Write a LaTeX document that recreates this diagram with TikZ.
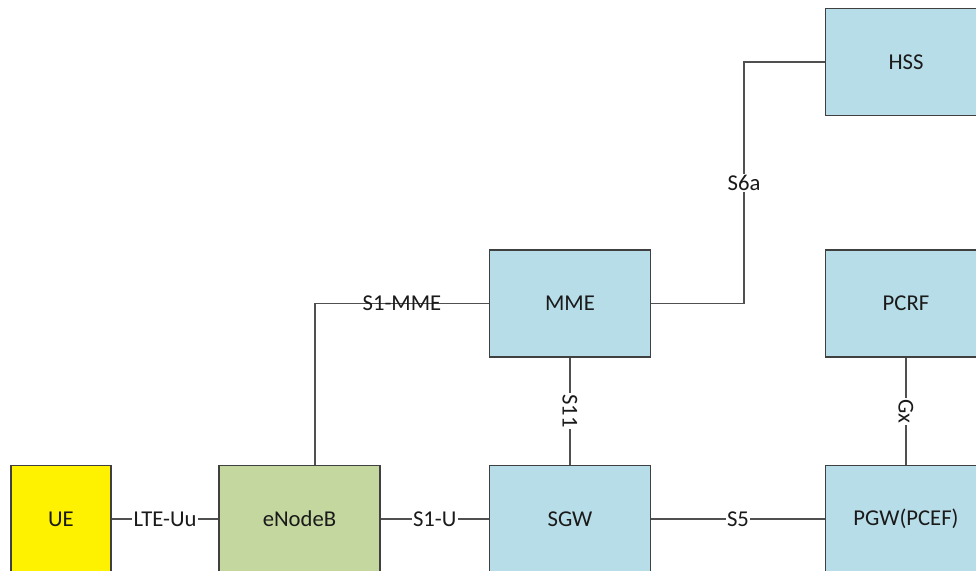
\documentclass[tikz,border=0pt]{standalone}
\usepackage{fontspec}
\setmainfont{Carlito}
\begin{document}
\begin{tikzpicture}[x=0.75pt,y=-0.75pt,
  box/.style={draw=boxline,line width=1.1pt,minimum width=120.5pt,minimum height=80.5pt,inner sep=0pt,font=\fontsize{17}{19}\selectfont,text=txt},
  bluebox/.style={box,fill=blueF},
  conn/.style={draw=connline,line width=1.2pt},
  lbl/.style={fill=white,inner sep=1pt,font=\fontsize{17}{19}\selectfont,text=txt},
  lblnf/.style={inner sep=1pt,font=\fontsize{17}{19}\selectfont,text=txt}]
\definecolor{boxline}{HTML}{404040}
\definecolor{connline}{HTML}{505050}
\definecolor{blueF}{HTML}{B7DDE8}
\definecolor{greenF}{HTML}{C4D79F}
\definecolor{txt}{HTML}{1A1A1A}
\useasboundingbox (0,0) rectangle (976,571);
\clip (0,0) rectangle (976,571);
\fill[white] (0,0) rectangle (976,571);
% nodes
\node[box,fill=yellow,minimum width=75pt] (ue) at (61,519) {UE};
\node[box,fill=greenF] (enb) at (299.5,519) {eNodeB};
\node[bluebox] (sgw) at (570,519) {SGW};
\node[bluebox] (pgw) at (906,519) {PGW(PCEF)};
\node[bluebox] (mme) at (570,303.5) {MME};
\node[bluebox] (pcrf) at (906,303.5) {PCRF};
\node[bluebox] (hss) at (906,62) {HSS};
\coordinate (s6ax) at (744,0);
% connectors
\draw[conn] (ue) -- node[lbl]{LTE-Uu} (enb);
\draw[conn] (enb) -- node[lbl]{S1-U} (sgw);
\draw[conn] (sgw) -- node[lbl]{S5} (pgw);
\draw[conn] (mme) -- node[lbl,rotate=-90]{S11} (sgw);
\draw[conn] (pcrf) -- node[lbl,rotate=-90]{Gx} (pgw);
\draw[conn] ([xshift=11.6pt]enb.north) |- node[pos=0.75,lblnf]{S1-MME} (mme.west);
\draw[conn] (mme.east) -- (mme.east -| s6ax) -- node[lbl]{S6a} (hss.west -| s6ax) -- (hss.west);
\end{tikzpicture}
\end{document}
